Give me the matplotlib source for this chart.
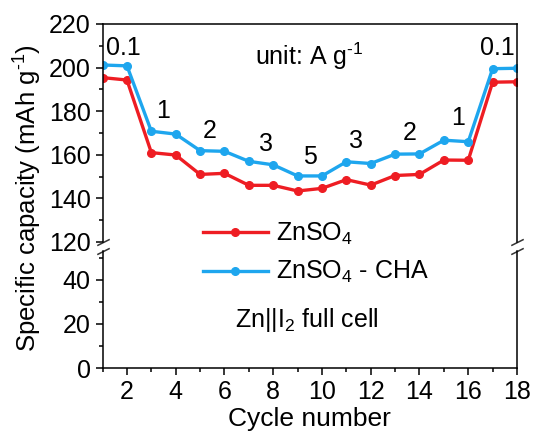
import numpy as np
import matplotlib
matplotlib.use('Agg')
import matplotlib.pyplot as plt
from matplotlib.ticker import MultipleLocator

plt.rcParams['font.family'] = ['Liberation Sans', 'DejaVu Sans']
plt.rcParams['mathtext.fontset'] = 'custom'
plt.rcParams['mathtext.rm'] = 'Liberation Sans'
plt.rcParams['mathtext.it'] = 'Liberation Sans:italic'
plt.rcParams['axes.linewidth'] = 1.1

# Data
cycles = np.arange(1, 19)
znso4 = [195.4, 194.3, 161.0, 159.9, 151.0, 151.5, 146.0, 146.0, 143.4, 144.6,
         148.6, 146.1, 150.5, 151.0, 157.6, 157.5, 193.3, 193.5]
znso4_cha = [201.2, 200.8, 170.8, 169.5, 161.9, 161.6, 157.0, 155.4, 150.3, 150.3,
             156.8, 156.0, 160.3, 160.4, 166.7, 166.0, 199.5, 199.7]
rate_labels = ['0.1', '1', '2', '3', '5', '3', '2', '1', '0.1']
rate_x = [1.85, 3.5, 5.4, 7.7, 9.5, 11.4, 13.6, 15.6, 17.2]
rate_y = [209, 180, 171, 165, 159, 166.5, 170, 177, 209]

RED = '#ee1d23'
BLUE = '#1ea6ee'
FS = 18

fig = plt.figure(figsize=(5.37, 4.37), dpi=100)
W, H = 537, 437
left, right = 102.6 / W, 517 / W
ax_top = fig.add_axes([left, 1 - 242 / H, right - left, (242 - 24) / H])
ax_bot = fig.add_axes([left, 1 - 368 / H, right - left, (368 - 251) / H])

for ax in (ax_top, ax_bot):
    ax.plot(cycles, znso4, color=RED, lw=2.4, marker='o', ms=5.5, label=r'ZnSO$_4$')
    ax.plot(cycles, znso4_cha, color=BLUE, lw=2.4, marker='o', ms=5.5,
            label=r'ZnSO$_4$ - CHA')
    ax.set_xlim(1, 18)
    ax.tick_params(axis='both', which='major', direction='out', length=5, width=1.1,
                   labelsize=FS, right=False, top=False)
    ax.tick_params(axis='both', which='minor', direction='out', length=3, width=1.1,
                   right=False, top=False)

ax_top.set_ylim(120, 220)
ax_top.yaxis.set_major_locator(MultipleLocator(20))
ax_top.yaxis.set_minor_locator(MultipleLocator(10))
ax_top.spines['bottom'].set_visible(False)
ax_top.tick_params(axis='x', which='both', bottom=False, labelbottom=False)

ax_bot.set_ylim(0, 53)
ax_bot.yaxis.set_major_locator(MultipleLocator(20))
ax_bot.yaxis.set_minor_locator(MultipleLocator(10))
ax_bot.spines['top'].set_visible(False)
ax_bot.xaxis.set_major_locator(MultipleLocator(2))
ax_bot.xaxis.set_minor_locator(MultipleLocator(1))
ax_bot.set_xlabel('Cycle number', fontsize=FS + 1, labelpad=2)

# break marks
kw = dict(marker=[(-1, -0.5), (1, 0.5)], markersize=9, linestyle='none',
          color='#333333', mec='#333333', mew=1.1, clip_on=False)
ax_top.plot([0, 1], [0, 0], transform=ax_top.transAxes, **kw)
ax_bot.plot([0, 1], [1, 1], transform=ax_bot.transAxes, **kw)

for lab, x, y in zip(rate_labels, rate_x, rate_y):
    ax_top.text(x, y, lab, fontsize=FS, ha='center', va='center')

ax_top.text(0.5, 0.85, r'unit: A g$^{\text{-1}}$', transform=ax_top.transAxes,
            fontsize=FS, ha='center', va='center')

fig.text(28 / W, 1 - 198 / H, r'Specific capacity (mAh g$^{\text{-1}}$)', rotation=90,
         fontsize=FS + 0.5, ha='center', va='center')

handles, labels = ax_top.get_legend_handles_labels()
fig.legend(handles, labels, loc='center left',
           bbox_to_anchor=(180 / W, 1 - 253 / H), frameon=False, fontsize=FS,
           handlelength=2.6, handletextpad=0.35, labelspacing=0.5)

fig.text(235 / W, 1 - 320 / H, r'Zn||I$_2$ full cell', fontsize=FS,
         ha='left', va='center')

fig.savefig('out.png', dpi=100)
